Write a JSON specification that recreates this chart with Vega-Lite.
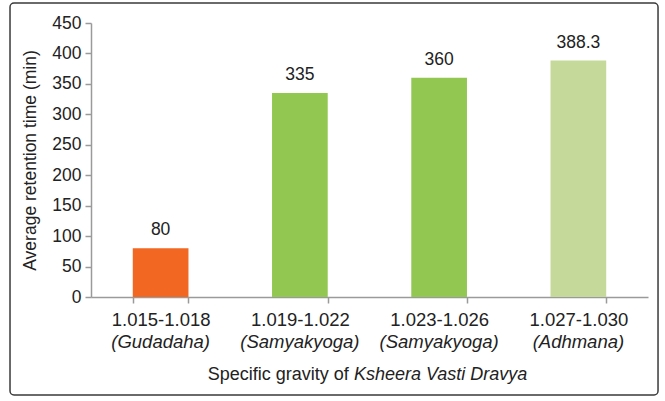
{
  "$schema": "https://vega.github.io/schema/vega-lite/v6.json",
  "autosize": {"type": "none"},
  "padding": {"left": 91, "top": 23, "right": 17, "bottom": 104},
  "width": 557,
  "height": 274,
  "background": "white",
  "config": {
    "view": {"stroke": null},
    "font": "Liberation Sans",
    "axis": {"domainColor": "#9a9a9a", "tickColor": "#9a9a9a", "labelColor": "#222", "titleColor": "#222", "labelFont": "Liberation Sans", "titleFont": "Liberation Sans", "titleFontWeight": "normal", "grid": false}
  },
  "datasets": {
    "bars": [
      {"range": "1.015-1.018", "name": "(Gudadaha)", "time": 80, "label": "80", "group": "a"},
      {"range": "1.019-1.022", "name": "(Samyakyoga)", "time": 335, "label": "335", "group": "b"},
      {"range": "1.023-1.026", "name": "(Samyakyoga)", "time": 360, "label": "360", "group": "b"},
      {"range": "1.027-1.030", "name": "(Adhmana)", "time": 388.3, "label": "388.3", "group": "c"}
    ],
    "title": [
      {"normal": "Specific gravity of", "italic": "Ksheera Vasti Dravya", "pos": "1.019-1.022"}
    ]
  },
  "resolve": {"scale": {"x": "independent", "y": "independent"}, "axis": {"x": "independent", "y": "independent"}},
  "layer": [
    {
      "data": {"values": [{"frame": 1}]},
      "mark": {"type": "rect", "fill": null, "stroke": "#3a3a3a", "strokeWidth": 1.5, "cornerRadius": 4},
      "encoding": {
        "x": {"datum": -0.1454, "type": "quantitative", "scale": {"domain": [0, 1], "nice": false, "zero": false}, "axis": null},
        "x2": {"datum": 1.018},
        "y": {"datum": 1.073, "type": "quantitative", "scale": {"domain": [0, 1], "nice": false, "zero": false}, "axis": null},
        "y2": {"datum": -0.3577}
      }
    },
    {
      "data": {"name": "bars"},
      "encoding": {
        "x": {
          "field": "range", "type": "nominal", "sort": null,
          "scale": {"domain": ["1.015-1.018", "1.019-1.022", "1.023-1.026", "1.027-1.030"], "paddingInner": 0.6, "paddingOuter": 0.3},
          "axis": {"title": null, "labelAngle": 0, "tickSize": 6, "tickBand": "extent", "labelPadding": 7, "domainWidth": 1.5, "tickWidth": 1.5, "labelFontSize": 18.5}
        },
        "y": {
          "field": "time", "type": "quantitative",
          "scale": {"domain": [0, 450], "nice": false},
          "axis": {"title": "Average retention time (min)", "values": [0, 50, 100, 150, 200, 250, 300, 350, 400, 450], "labelOverlap": false, "labelFontSize": 17.5, "titleFontSize": 17.5, "tickSize": 6, "labelPadding": 4, "titlePadding": 12, "domainWidth": 1.5, "tickWidth": 1.5}
        }
      },
      "layer": [
        {
          "mark": {"type": "bar"},
          "encoding": {
            "color": {
              "field": "group", "type": "nominal", "legend": null,
              "scale": {"domain": ["a", "b", "c"], "range": ["#F26722", "#92C852", "#C4D99A"]}
            }
          }
        },
        {
          "mark": {"type": "text", "baseline": "bottom", "dy": -9, "fontSize": 17.5, "color": "#222"},
          "encoding": {
            "text": {"field": "label"}
          }
        }
      ]
    },
    {
      "data": {"name": "bars"},
      "mark": {"type": "text", "baseline": "middle", "dy": 45, "fontSize": 18.5, "fontStyle": "italic", "color": "#222"},
      "encoding": {
        "x": {
          "field": "range", "type": "nominal", "sort": null,
          "scale": {"domain": ["1.015-1.018", "1.019-1.022", "1.023-1.026", "1.027-1.030"], "paddingInner": 0.6, "paddingOuter": 0.3},
          "axis": null
        },
        "y": {"datum": 0, "type": "quantitative", "scale": {"domain": [0, 450], "nice": false}, "axis": null},
        "text": {"field": "name"}
      }
    },
    {
      "data": {"name": "title"},
      "encoding": {
        "x": {
          "field": "pos", "type": "nominal",
          "scale": {"domain": ["1.015-1.018", "1.019-1.022", "1.023-1.026", "1.027-1.030"], "paddingInner": 0.6, "paddingOuter": 0.3},
          "axis": null
        },
        "y": {"datum": 0, "type": "quantitative", "scale": {"domain": [0, 450], "nice": false}, "axis": null}
      },
      "layer": [
        {
          "mark": {"type": "text", "baseline": "middle", "align": "right", "dy": 78, "dx": 49, "fontSize": 18, "color": "#222"},
          "encoding": {"text": {"field": "normal"}}
        },
        {
          "mark": {"type": "text", "baseline": "middle", "align": "left", "dy": 78, "dx": 54, "fontSize": 18, "fontStyle": "italic", "color": "#222"},
          "encoding": {"text": {"field": "italic"}}
        }
      ]
    }
  ]
}
